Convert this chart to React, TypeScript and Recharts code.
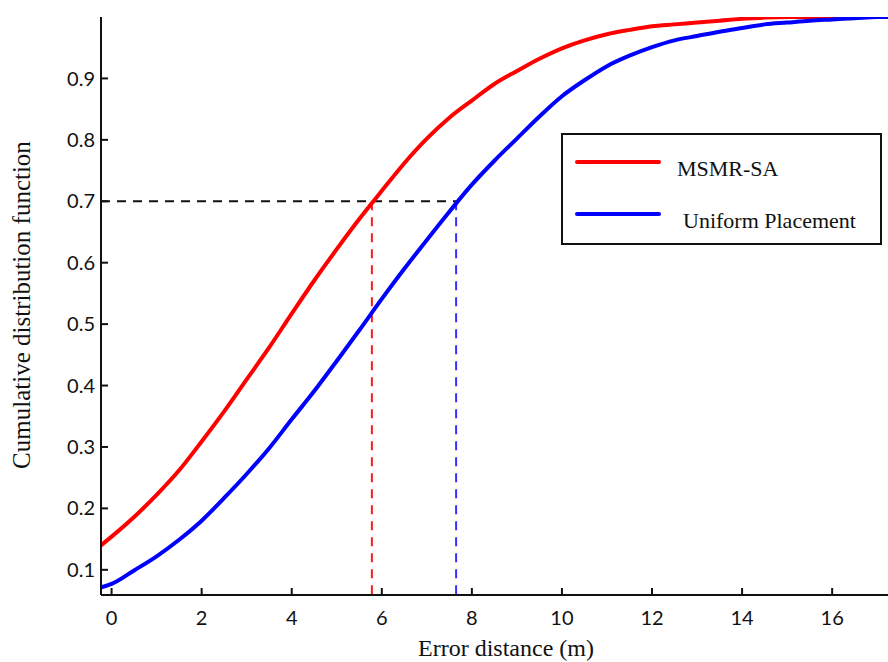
import React from "react";
import { LineChart, Line, XAxis, YAxis, ReferenceLine } from "recharts";

// error distance (m)
const distances = [
  -0.25, 0, 0.5, 1, 1.5, 2, 2.5, 3, 3.5, 4, 4.5, 5, 5.5, 6, 6.5, 7, 7.5, 8,
  8.5, 9, 9.5, 10, 10.5, 11, 11.5, 12, 12.5, 13, 13.5, 14, 14.5, 15, 15.5, 16,
  16.5, 17, 17.25,
];

const msmrSa = [
  0.139, 0.154, 0.186, 0.222, 0.262, 0.309, 0.358, 0.41, 0.462, 0.517, 0.571,
  0.622, 0.671, 0.717, 0.762, 0.802, 0.836, 0.864, 0.891, 0.912, 0.932, 0.949,
  0.962, 0.972, 0.979, 0.985, 0.988, 0.991, 0.994, 0.997, 0.999, 1.0, 1.0, 1.0,
  1.0, 1.0, 1.0,
];

const uniform = [
  0.071, 0.077, 0.099, 0.122, 0.149, 0.18, 0.217, 0.256, 0.298, 0.345, 0.391,
  0.44, 0.49, 0.541, 0.59, 0.637, 0.683, 0.727, 0.766, 0.802, 0.838, 0.871,
  0.897, 0.92, 0.937, 0.951, 0.962, 0.969, 0.976, 0.982, 0.988, 0.991, 0.994,
  0.996, 0.998, 1.0, 1.0,
];

const xTicks = [0, 2, 4, 6, 8, 10, 12, 14, 16];
const yTicks = [0.1, 0.2, 0.3, 0.4, 0.5, 0.6, 0.7, 0.8, 0.9];

// 70% marks
const cdfLevel = 0.7;
const msmrAt70 = 5.78;
const uniformAt70 = 7.65;

const xMin = -0.235;
const xMax = 17.24;
const yMin = 0.059;
const yMax = 1.0;

const chartData = distances.map((x, i) => ({
  x,
  msmr: msmrSa[i],
  uniform: uniform[i],
}));

const tickFont = {
  fill: "#111",
  fontSize: 20,
  fontFamily: "Lato, Calibri, sans-serif",
};
const serif = "'Liberation Serif', 'Times New Roman', serif";

function LegendBox() {
  return (
    <div
      style={{
        position: "absolute",
        left: 561,
        top: 133,
        width: 317,
        height: 108,
        border: "2px solid #111",
        background: "#fff",
      }}
    >
      <svg width={317} height={108} style={{ position: "absolute", left: 0, top: 0 }}>
        <line x1={14} y1={27} x2={96} y2={27} stroke="#ff0000" strokeWidth={4} strokeLinecap="round" />
        <line x1={14} y1={79} x2={96} y2={79} stroke="#0000ff" strokeWidth={4} strokeLinecap="round" />
        <text x={114} y={41} fontSize={22} fontFamily={serif} fill="#111">MSMR-SA</text>
        <text x={120} y={93} fontSize={22} fontFamily={serif} fill="#111">Uniform Placement</text>
      </svg>
    </div>
  );
}

export default function App() {
  return (
    <div style={{ position: "absolute", left: 0, top: 0, width: 888, height: 662, background: "#fff" }}>
      <LineChart
        width={888}
        height={662}
        data={chartData}
        margin={{ top: 17, right: 0, left: 0, bottom: 0 }}
      >
        <XAxis
          dataKey="x"
          type="number"
          domain={[xMin, xMax]}
          ticks={xTicks}
          allowDataOverflow
          height={67}
          stroke="#111"
          strokeWidth={2}
          tickSize={-7}
          tickMargin={23}
          tick={tickFont}
          interval={0}
        />
        <XAxis
          xAxisId="top"
          dataKey="x"
          type="number"
          orientation="top"
          domain={[xMin, xMax]}
          ticks={xTicks}
          allowDataOverflow
          height={0}
          stroke="#111"
          strokeWidth={2}
          tickSize={-7}
          tick={false}
          interval={0}
        />
        <YAxis
          type="number"
          domain={[yMin, yMax]}
          ticks={yTicks}
          allowDataOverflow
          width={101}
          stroke="#111"
          strokeWidth={2}
          tickSize={-7}
          tickMargin={13}
          tick={tickFont}
          interval={0}
        />
        <ReferenceLine
          segment={[
            { x: xMin, y: cdfLevel },
            { x: uniformAt70, y: cdfLevel },
          ]}
          stroke="#111"
          strokeWidth={2}
          strokeDasharray="9 7"
          ifOverflow="visible"
        />
        <ReferenceLine
          segment={[
            { x: msmrAt70, y: cdfLevel },
            { x: msmrAt70, y: yMin },
          ]}
          stroke="#ff1a1a"
          strokeWidth={2}
          strokeDasharray="9 7"
          ifOverflow="visible"
        />
        <ReferenceLine
          segment={[
            { x: uniformAt70, y: cdfLevel },
            { x: uniformAt70, y: yMin },
          ]}
          stroke="#3333ff"
          strokeWidth={2}
          strokeDasharray="9 7"
          ifOverflow="visible"
        />
        <Line
          type="monotone"
          dataKey="msmr"
          name="MSMR-SA"
          stroke="#ff0000"
          strokeWidth={4}
          dot={false}
          isAnimationActive={false}
        />
        <Line
          type="monotone"
          dataKey="uniform"
          name="Uniform Placement"
          stroke="#0000ff"
          strokeWidth={4}
          dot={false}
          isAnimationActive={false}
        />
      </LineChart>
      <LegendBox />
      <svg
        width={888}
        height={662}
        style={{ position: "absolute", left: 0, top: 0, pointerEvents: "none" }}
      >
        <text
          x={30}
          y={305}
          transform="rotate(-90 30 305)"
          textAnchor="middle"
          fontFamily={serif}
          fontSize={25}
          fill="#111"
        >
          Cumulative distribution function
        </text>
        <text x={506} y={656} textAnchor="middle" fontFamily={serif} fontSize={24} fill="#111">
          Error distance (m)
        </text>
      </svg>
    </div>
  );
}
